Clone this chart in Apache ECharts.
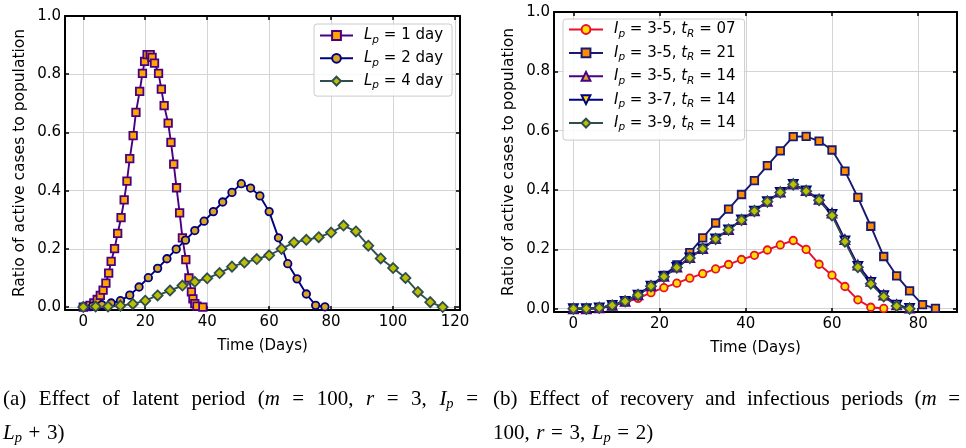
<!DOCTYPE html>
<html><head><meta charset="utf-8">
<script src="https://cdn.jsdelivr.net/npm/echarts@6/dist/echarts.min.js"></script>
<style>html,body{margin:0;padding:0;background:#fff}#c{width:966px;height:448px}</style>
</head><body><div id="c"></div>
<script>
// ---------- data ----------
const xTicksA = [0, 20, 40, 60, 80, 100, 120];
const xTicksB = [0, 20, 40, 60, 80];
const yTicks = [0, 0.2, 0.4, 0.6, 0.8, 1.0];

const legendA = ['L_p = 1 day', 'L_p = 2 day', 'L_p = 4 day'];
const legendB = ['I_p = 3-5, t_R = 07', 'I_p = 3-5, t_R = 21', 'I_p = 3-5, t_R = 14', 'I_p = 3-7, t_R = 14', 'I_p = 3-9, t_R = 14'];

const yTitle = 'Ratio of active cases to population';
const xTitle = 'Time (Days)';

const captionA = ['(a) Effect of latent period (*m* = 100, *r* = 3, *I*_p =', '*L*_p + 3)'];
const captionB = ['(b) Effect of recovery and infectious periods (*m* =', '100, *r* = 3, *L*_p = 2)'];

// panel (a)
const lp1Days = [0, 1.2, 2.2, 3.4, 4.5, 5.5, 6.4, 7.3, 8.2, 9.0, 10.1, 11.1, 12.2, 13.2, 14.1, 15.0, 16.1, 17.0, 18.2, 19.1, 19.8, 20.6, 21.6, 22.2, 23.0, 24.3, 25.2, 26.1, 27.4, 28.3, 29.2, 30.1, 31.1, 32.0, 33.1, 34.1, 34.9, 35.4, 36.0, 36.7, 38.6];
const lp1Vals = [0, 0.002, 0.006, 0.014, 0.026, 0.04, 0.058, 0.082, 0.117, 0.157, 0.201, 0.253, 0.307, 0.368, 0.433, 0.51, 0.589, 0.669, 0.741, 0.803, 0.844, 0.867, 0.867, 0.858, 0.838, 0.803, 0.749, 0.692, 0.632, 0.566, 0.491, 0.41, 0.324, 0.238, 0.163, 0.1, 0.052, 0.028, 0.012, 0.003, 0];

const lp2Days = [0, 3, 6, 9, 12, 15, 18, 21, 24, 27, 30, 33, 36, 39, 42, 45, 48, 51, 54, 57, 60, 63, 66, 69, 72, 75, 78];
const lp2Vals = [0.001, 0.003, 0.008, 0.014, 0.022, 0.041, 0.069, 0.101, 0.133, 0.166, 0.199, 0.23, 0.263, 0.295, 0.328, 0.361, 0.394, 0.424, 0.409, 0.382, 0.328, 0.238, 0.149, 0.097, 0.045, 0.006, 0.001];

const lp4Days = [0, 4, 8, 12, 16, 20, 24, 28, 32, 36, 40, 44, 48, 52, 56, 60, 64, 68, 72, 76, 80, 84, 88, 92, 96, 100, 104, 108, 112, 116];
const lp4Vals = [0, 0.002, 0.002, 0.005, 0.011, 0.022, 0.04, 0.057, 0.074, 0.087, 0.099, 0.117, 0.139, 0.153, 0.165, 0.178, 0.2, 0.222, 0.231, 0.24, 0.256, 0.28, 0.26, 0.211, 0.167, 0.134, 0.1, 0.052, 0.017, 0];

// panel (b)
const tR07Days = [0, 3, 6, 9, 12, 15, 18, 21, 24, 27, 30, 33, 36, 39, 42, 45, 48, 51, 54, 57, 60, 63, 66, 69, 72];
const tR07Vals = [0, 0, 0.002, 0.01, 0.022, 0.035, 0.054, 0.071, 0.086, 0.103, 0.118, 0.134, 0.149, 0.166, 0.18, 0.198, 0.215, 0.23, 0.2, 0.15, 0.113, 0.075, 0.03, 0.005, 0.001];

const tR21Days = [0, 3, 6, 9, 12, 15, 18, 21, 24, 27, 30, 33, 36, 39, 42, 45, 48, 51, 54, 57, 60, 63, 66, 69, 72, 75, 78, 81, 84];
const tR21Vals = [0, 0, 0.003, 0.011, 0.026, 0.047, 0.078, 0.112, 0.148, 0.189, 0.239, 0.289, 0.336, 0.385, 0.432, 0.482, 0.532, 0.58, 0.581, 0.565, 0.535, 0.464, 0.375, 0.278, 0.176, 0.111, 0.06, 0.014, 0.001];

const tR14Days = [0, 3, 6, 9, 12, 15, 18, 21, 24, 27, 30, 33, 36, 39, 42, 45, 48, 51, 54, 57, 60, 63, 66, 69, 72, 75, 78];
const ip35Vals = [0, 0, 0.003, 0.011, 0.025, 0.047, 0.077, 0.109, 0.14, 0.172, 0.203, 0.236, 0.267, 0.3, 0.33, 0.362, 0.393, 0.42, 0.398, 0.369, 0.322, 0.233, 0.147, 0.092, 0.046, 0.013, 0.002];
const ip37Vals = [0, 0, 0.003, 0.011, 0.025, 0.046, 0.076, 0.108, 0.139, 0.171, 0.202, 0.235, 0.266, 0.299, 0.329, 0.361, 0.392, 0.419, 0.397, 0.367, 0.318, 0.229, 0.143, 0.089, 0.044, 0.012, 0.001];
const ip39Vals = [0, 0, 0.003, 0.011, 0.025, 0.046, 0.076, 0.108, 0.139, 0.171, 0.202, 0.235, 0.266, 0.299, 0.329, 0.361, 0.392, 0.419, 0.396, 0.366, 0.314, 0.226, 0.14, 0.084, 0.041, 0.009, 0];

// ---------- helpers ----------
const SANS = "'DejaVu Sans'";
const SERIF = "'Liberation Serif'";
const FS = 15;

function legendRich(name) {
  let out = '', buf = '', i = 0;
  const flush = () => { if (buf) { out += '{n|' + buf + '}'; buf = ''; } };
  while (i < name.length) {
    const c = name[i];
    if (/[A-Za-z]/.test(c) && name[i + 1] === '_') {
      flush();
      out += '{' + (i === 0 ? 'it0' : 'it') + '|' + c + '}{sub|' + name[i + 2] + '}';
      i += 3; continue;
    }
    buf += c; i++;
  }
  flush();
  return out;
}
const legendRichStyles = {
  n: { fontFamily: SANS, fontSize: FS, lineHeight: 20, color: '#000' },
  it0: { fontFamily: SANS, fontSize: FS, fontStyle: 'italic', lineHeight: 20, color: '#000', padding: [0, 0, 0, 6] },
  it: { fontFamily: SANS, fontSize: FS, fontStyle: 'italic', lineHeight: 20, color: '#000' },
  sub: { fontFamily: SANS, fontSize: 10.5, fontStyle: 'italic', lineHeight: 11, verticalAlign: 'bottom', color: '#000' }
};

// caption building (justified first lines)
const CAP = 21, CAPSUB = 14.5;
const capFonts = {
  n: 'normal ' + CAP + 'px ' + SERIF,
  it: 'italic ' + CAP + 'px ' + SERIF,
  sub: 'italic ' + CAPSUB + 'px ' + SERIF
};
const mctx = document.createElement('canvas').getContext('2d');
function measure(txt, style) { mctx.font = capFonts[style]; return mctx.measureText(txt).width; }
function wordTokens(w) {
  const toks = []; let it = false, buf = '', i = 0;
  const flush = () => { if (buf) { toks.push([it ? 'it' : 'n', buf]); buf = ''; } };
  while (i < w.length) {
    const c = w[i];
    if (c === '*') { flush(); it = !it; i++; continue; }
    if (c === '_') { flush(); toks.push(['sub', w[i + 1]]); i += 2; continue; }
    buf += c; i++;
  }
  flush();
  return toks;
}
function buildLine(str, targetW, spName) {
  const words = str.split(' ').map(wordTokens);
  let sum = 0;
  words.forEach(ts => ts.forEach(t => { sum += measure(t[1], t[0]); }));
  const gap = targetW ? (targetW - sum) / (words.length - 1) : measure(' ', 'n') * 1.25;
  const text = words.map(ts => ts.map(t => '{' + t[0] + '|' + t[1] + '}').join('')).join('{' + spName + '| }');
  return { text, gap };
}
function capRich(gap, spName) {
  const r = {
    n: { fontFamily: SERIF, fontSize: CAP, lineHeight: 24, fill: '#000' },
    it: { fontFamily: SERIF, fontSize: CAP, fontStyle: 'italic', lineHeight: 24, fill: '#000' },
    sub: { fontFamily: SERIF, fontSize: CAPSUB, fontStyle: 'italic', lineHeight: 15, verticalAlign: 'bottom', fill: '#000' }
  };
  r[spName] = { fontFamily: SERIF, fontSize: CAP, lineHeight: 24, width: gap };
  return r;
}
const lA1 = buildLine(captionA[0], 475, 'sp');
const lA2 = buildLine(captionA[1], 0, 'sp');
const lB1 = buildLine(captionB[0], 467, 'sp');
const lB2 = buildLine(captionB[1], 0, 'sp');
function capText(x, y, line) {
  return { type: 'text', x: x, y: y, silent: true,
    style: { text: line.text, rich: capRich(line.gap, 'sp'), verticalAlign: 'middle', align: 'left', fill: '#000', font: capFonts.n } };
}

function mk(name, xs, ys, sym, size, face, edge, panel, rot) {
  return {
    name: name, type: 'line', xAxisIndex: panel * 2, yAxisIndex: panel * 2,
    data: xs.map((x, i) => [x, ys[i]]),
    symbol: sym, symbolSize: size, symbolRotate: rot || 0,
    showSymbol: true, showAllSymbol: true, clip: false,
    lineStyle: { color: edge, width: 1.9 },
    itemStyle: { color: face, borderColor: edge, borderWidth: 1.8, opacity: 1 },
    emphasis: { disabled: true }, animation: false
  };
}

const frame = { show: true, onZero: false, lineStyle: { color: '#000', width: 2 } };
const tickLbl = { fontFamily: SANS, fontSize: FS, color: '#000' };
const grid = { show: true, lineStyle: { color: '#d4d4d4', width: 1 } };
function xAx(gi, min, max, ticks, main) {
  return {
    gridIndex: gi, type: 'value', min: min, max: max, position: main ? 'bottom' : 'top',
    axisLine: frame,
    axisTick: { show: true, inside: true, length: 4, lineStyle: { color: '#000', width: 1.5 }, customValues: ticks },
    axisLabel: main ? Object.assign({ show: true, margin: 5, customValues: ticks, formatter: v => String(v) }, tickLbl) : { show: false },
    splitLine: main ? grid : { show: false },
    name: main ? xTitle : '', nameLocation: 'middle', nameGap: 29,
    nameTextStyle: { fontFamily: SANS, fontSize: FS, color: '#000' }
  };
}
function yAx(gi, min, max, main) {
  return {
    gridIndex: gi, type: 'value', min: min, max: max, position: main ? 'left' : 'right',
    axisLine: frame,
    axisTick: { show: true, inside: true, length: 4, lineStyle: { color: '#000', width: 1.5 }, customValues: yTicks },
    axisLabel: main ? Object.assign({ show: true, margin: 4, customValues: yTicks, formatter: v => v.toFixed(1) }, tickLbl) : { show: false },
    splitLine: main ? grid : { show: false },
    name: main ? yTitle : '', nameLocation: 'middle', nameRotate: 90, nameGap: 37,
    nameTextStyle: { fontFamily: SANS, fontSize: 15.5, color: '#000' }
  };
}

const legendBox = {
  orient: 'vertical', itemWidth: 33, itemHeight: 11,
  backgroundColor: 'rgba(255,255,255,0.85)', borderColor: '#cccccc', borderWidth: 1, borderRadius: 3,
  formatter: legendRich, textStyle: { rich: legendRichStyles, fontFamily: SANS, fontSize: FS },
  selectedMode: false
};

const option = {
  animation: false,
  backgroundColor: '#fff',
  grid: [
    { left: 65, top: 16, width: 395, height: 294 },
    { left: 554, top: 12, width: 403, height: 300 }
  ],
  xAxis: [xAx(0, -5.9, 121.6, xTicksA, true), xAx(0, -5.9, 121.6, xTicksA, false),
          xAx(1, -4.5, 89, xTicksB, true), xAx(1, -4.5, 89, xTicksB, false)],
  yAxis: [yAx(0, -0.01, 1.0, true), yAx(0, -0.01, 1.0, false),
          yAx(1, -0.011, 1.0, true), yAx(1, -0.011, 1.0, false)],
  legend: [
    Object.assign({}, legendBox, { data: legendA, left: 314, top: 24, padding: [4, 9, 5, 5], itemGap: 5.3 }),
    Object.assign({}, legendBox, { data: legendB, left: 563, top: 19, padding: [3, 9, 7, 5], itemGap: 5.9, itemWidth: 34 })
  ],
  series: [
    mk(legendA[0], lp1Days, lp1Vals, 'rect', 7.5, '#FFA500', '#4B0082', 0),
    mk(legendA[1], lp2Days, lp2Vals, 'circle', 7.5, '#DAA520', '#000080', 0),
    mk(legendA[2], lp4Days, lp4Vals, 'diamond', 10, '#BFBF00', '#2F4F4F', 0),
    mk(legendB[0], tR07Days, tR07Vals, 'circle', 7.5, '#FFE000', '#E8112D', 1),
    mk(legendB[1], tR21Days, tR21Vals, 'rect', 7.5, '#FF8C00', '#191970', 1),
    mk(legendB[2], tR14Days, ip35Vals, 'triangle', 9, '#DAA520', '#4B0082', 1),
    mk(legendB[3], tR14Days, ip37Vals, 'triangle', 9, '#FFD700', '#000080', 1, 180),
    mk(legendB[4], tR14Days, ip39Vals, 'diamond', 10, '#BFBF00', '#2F4F4F', 1)
  ],
  graphic: [
    capText(3, 399.5, lA1),
    capText(3, 433.5, lA2),
    capText(493, 399.5, lB1),
    capText(493, 433.5, lB2)
  ]
};

const chart = echarts.init(document.getElementById('c'), null, { renderer: 'canvas' });
chart.setOption(option);
</script>
</body></html>
